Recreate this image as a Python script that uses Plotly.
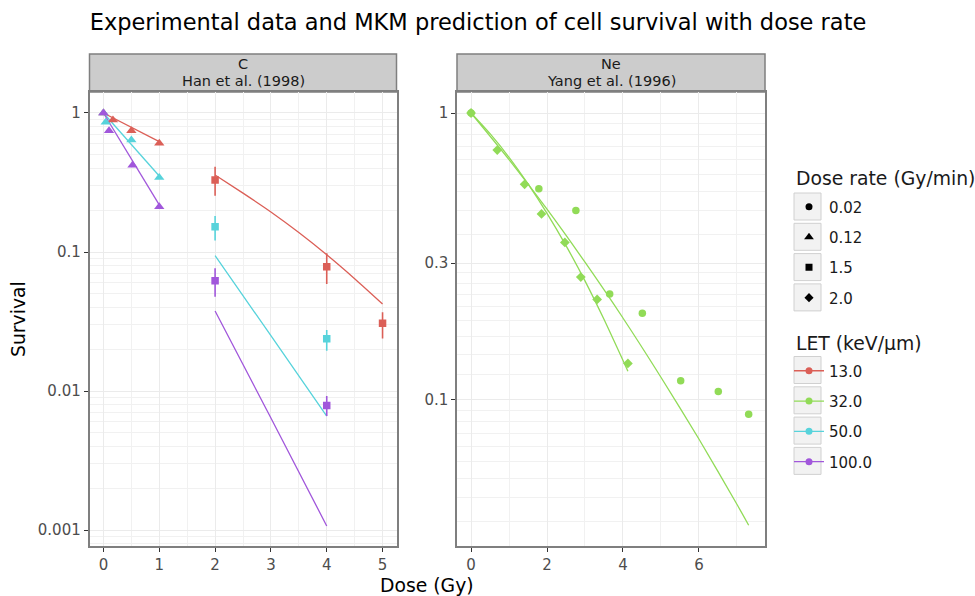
import plotly.graph_objects as go

# ---------------- data ----------------
LET_COLORS = {"13.0": "#DB5F57", "32.0": "#91DB57", "50.0": "#57D3DB", "100.0": "#A157DB"}

# Carbon ions, Han et al. (1998) -- 0.12 Gy/min (triangles)
c_tri_dose = {
    "13.0": [0.0, 0.17, 0.5, 1.0],
    "50.0": [0.0, 0.04, 0.5, 1.0],
    "100.0": [0.0, 0.1, 0.52, 1.0],
}
c_tri_surv = {
    "13.0": [1.0, 0.89, 0.746, 0.605],
    "50.0": [1.0, 0.857, 0.64, 0.344],
    "100.0": [1.0, 0.746, 0.42, 0.212],
}
c_tri_fit_dose = [0.0, 0.5, 1.0]
c_tri_fit_surv = {
    "13.0": [1.0, 0.789, 0.622],
    "50.0": [1.0, 0.593, 0.352],
    "100.0": [1.0, 0.467, 0.218],
}

# Carbon ions, Han et al. (1998) -- 1.5 Gy/min (squares, with error bars)
c_sq_dose = {
    "13.0": [2.0, 4.0, 5.0],
    "50.0": [2.0, 4.0],
    "100.0": [2.0, 4.0],
}
c_sq_surv = {
    "13.0": [0.330, 0.0784, 0.0307],
    "50.0": [0.152, 0.0238],
    "100.0": [0.0622, 0.00785],
}
c_sq_upper = {
    "13.0": [0.411, 0.098, 0.0369],
    "50.0": [0.1815, 0.0275],
    "100.0": [0.0763, 0.0092],
}
c_sq_lower = {
    "13.0": [0.254, 0.0589, 0.0239],
    "50.0": [0.1208, 0.0195],
    "100.0": [0.0477, 0.0066],
}
c_sq_fit_dose = {
    "13.0": [2.0, 2.5, 3.0, 3.5, 4.0, 4.5, 5.0],
    "50.0": [2.0, 3.0, 4.0],
    "100.0": [2.0, 3.0, 4.0],
}
c_sq_fit_surv = {
    "13.0": [0.358, 0.265, 0.194, 0.138, 0.0955, 0.0643, 0.0423],
    "50.0": [0.094, 0.025, 0.0066],
    "100.0": [0.0376, 0.0064, 0.00107],
}

# Neon ions, Yang et al. (1996), LET 32.0
ne_circ_dose = [0.0, 1.785, 2.76, 3.65, 4.51, 5.52, 6.51, 7.31]
ne_circ_surv = [1.0, 0.544, 0.457, 0.234, 0.2005, 0.1167, 0.107, 0.0891]
ne_diam_dose = [0.0, 0.69, 1.41, 1.855, 2.47, 2.89, 3.32, 4.13]
ne_diam_surv = [1.0, 0.743, 0.564, 0.445, 0.354, 0.268, 0.224, 0.134]
ne_circ_fit_dose = [0.0, 1.0, 2.0, 3.0, 4.0, 5.0, 6.0, 7.0, 7.31]
ne_circ_fit_surv = [1.0, 0.688, 0.462, 0.302, 0.193, 0.120, 0.0731, 0.0433, 0.0366]
ne_diam_fit_dose = [0.0, 0.5, 1.0, 1.5, 2.0, 2.5, 3.0, 3.5, 4.13]
ne_diam_fit_surv = [1.0, 0.847, 0.701, 0.566, 0.447, 0.345, 0.260, 0.191, 0.126]

dose_rate_labels = ["0.02", "0.12", "1.5", "2.0"]
dose_rate_symbols = ["circle", "triangle-up", "square", "diamond"]
let_labels = ["13.0", "32.0", "50.0", "100.0"]

left_xticks = [0, 1, 2, 3, 4, 5]
right_xticks = [0, 2, 4, 6]
left_yticks = [0.001, 0.01, 0.1, 1]
right_yticks = [0.1, 0.3, 1]

# ---------------- styling helpers ----------------
W, H = 975, 596
FONT = "DejaVu Sans"
GRID = "#EBEBEB"
GRID_MINOR = "#F1F1F1"
BORDER = "#7F7F7F"
TICKTXT = "#4D4D4D"
TXT = "#1A1A1A"
SMALL = 15.0   # tick labels, legend labels
STRIP = 14.5   # facet strip text
MEDIUM = 18.8  # axis and legend titles
LARGE = 22.5   # plot title


def px(x):
    return x / W


def py(y):
    return 1 - y / H


LEFT = (89.5, 396.5)
RIGHT = (457.0, 765.0)
TOP, BOTTOM = 92.0, 546.0
STRIP_TOP = 54.0
LEG_X = 789.0

SYM_SIZE = {"circle": 7.5, "triangle-up": 9, "square": 7.5, "diamond": 7.5}


def minor_log_breaks(majors, lo, hi):
    """Evenly spaced (in data units) minor breaks between consecutive majors."""
    vals = []
    for a, b in zip(majors[:-1], majors[1:]):
        step = (b - a) / 9
        vals += [a + k * step for k in range(1, 9)]
    return [v for v in vals if lo <= v <= hi]


fig = go.Figure()

# ---- left panel: carbon ----
for let in ["13.0", "50.0", "100.0"]:
    col = LET_COLORS[let]
    fig.add_trace(go.Scatter(
        x=c_tri_fit_dose, y=c_tri_fit_surv[let], mode="lines",
        line=dict(color=col, width=1.3), showlegend=False, xaxis="x", yaxis="y"))
    fig.add_trace(go.Scatter(
        x=c_sq_fit_dose[let], y=c_sq_fit_surv[let], mode="lines",
        line=dict(color=col, width=1.3, shape="spline", smoothing=0.6),
        showlegend=False, xaxis="x", yaxis="y"))
for let in ["13.0", "50.0", "100.0"]:
    col = LET_COLORS[let]
    fig.add_trace(go.Scatter(
        x=c_tri_dose[let], y=c_tri_surv[let], mode="markers",
        marker=dict(symbol="triangle-up", size=SYM_SIZE["triangle-up"], color=col),
        showlegend=False, xaxis="x", yaxis="y"))
    s = c_sq_surv[let]
    fig.add_trace(go.Scatter(
        x=c_sq_dose[let], y=s, mode="markers",
        marker=dict(symbol="square", size=SYM_SIZE["square"], color=col),
        error_y=dict(type="data", symmetric=False,
                     array=[u - v for u, v in zip(c_sq_upper[let], s)],
                     arrayminus=[v - l for v, l in zip(s, c_sq_lower[let])],
                     width=0, thickness=1.6, color=col),
        showlegend=False, xaxis="x", yaxis="y"))

# ---- right panel: neon ----
ne_col = LET_COLORS["32.0"]
fig.add_trace(go.Scatter(x=ne_circ_fit_dose, y=ne_circ_fit_surv, mode="lines",
                         line=dict(color=ne_col, width=1.3, shape="spline", smoothing=0.6),
                         showlegend=False, xaxis="x2", yaxis="y2"))
fig.add_trace(go.Scatter(x=ne_diam_fit_dose, y=ne_diam_fit_surv, mode="lines",
                         line=dict(color=ne_col, width=1.3, shape="spline", smoothing=0.6),
                         showlegend=False, xaxis="x2", yaxis="y2"))
fig.add_trace(go.Scatter(x=ne_circ_dose, y=ne_circ_surv, mode="markers",
                         marker=dict(symbol="circle", size=SYM_SIZE["circle"], color=ne_col),
                         showlegend=False, xaxis="x2", yaxis="y2"))
fig.add_trace(go.Scatter(x=ne_diam_dose, y=ne_diam_surv, mode="markers",
                         marker=dict(symbol="diamond", size=SYM_SIZE["diamond"], color=ne_col),
                         showlegend=False, xaxis="x2", yaxis="y2"))

# ---- legend entries ----
for lab, sym in zip(dose_rate_labels, dose_rate_symbols):
    fig.add_trace(go.Scatter(
        x=[None], y=[None], mode="markers", name=lab, legend="legend",
        legendgroup="dr" + lab,
        marker=dict(symbol=sym, size=SYM_SIZE[sym] - 0.5, color="black"),
        xaxis="x", yaxis="y"))
for lab in let_labels:
    fig.add_trace(go.Scatter(
        x=[None], y=[None], mode="lines+markers", name=lab, legend="legend2",
        legendgroup="let" + lab,
        line=dict(color=LET_COLORS[lab], width=1.3),
        marker=dict(symbol="circle", size=7, color=LET_COLORS[lab]),
        xaxis="x", yaxis="y"))


def xaxis_cfg(domain, rng, ticks, minor):
    return dict(domain=domain, range=rng, tickvals=ticks, ticktext=[str(t) for t in ticks],
                ticks="outside", ticklen=4, tickwidth=1, tickcolor="#333333",
                tickfont=dict(size=SMALL, color=TICKTXT, family=FONT),
                showgrid=True, gridcolor=GRID, gridwidth=1.2, zeroline=False,
                minor=dict(tickvals=minor, showgrid=True, gridcolor=GRID_MINOR,
                           gridwidth=0.8, ticks=""),
                showline=True, mirror=True, linecolor=BORDER, linewidth=1.5)


def yaxis_cfg(domain, rng, ticks, minor, anchor):
    return dict(type="log", domain=domain, range=rng, anchor=anchor,
                tickvals=ticks, ticktext=[("%g" % t) for t in ticks],
                ticks="outside", ticklen=4, tickwidth=1, tickcolor="#333333",
                tickfont=dict(size=SMALL, color=TICKTXT, family=FONT),
                showgrid=True, gridcolor=GRID, gridwidth=1.2, zeroline=False,
                minor=dict(tickvals=minor, showgrid=True, gridcolor=GRID_MINOR,
                           gridwidth=0.8, ticks=""),
                showline=True, mirror=True, linecolor=BORDER, linewidth=1.5)


ydom = [py(BOTTOM), py(TOP)]
left_minor_y = minor_log_breaks([0.0001, 0.001, 0.01, 0.1, 1, 10], 0.0007, 1.5)
right_minor_y = minor_log_breaks([0.03, 0.1, 0.3, 1, 3], 0.03, 1.2)

legend_common = dict(xanchor="left", yanchor="top", bgcolor="rgba(0,0,0,0)",
                     font=dict(size=SMALL, color=TXT, family=FONT),
                     tracegroupgap=7.8, itemclick=False, itemdoubleclick=False)

fig.update_layout(
    width=W, height=H,
    margin=dict(l=0, r=0, t=0, b=0),
    paper_bgcolor="white", plot_bgcolor="white",
    font=dict(family=FONT, color=TXT),
    title=dict(text="Experimental data and MKM prediction of cell survival with dose rate",
               x=px(478), xanchor="center", y=py(22), yanchor="middle",
               font=dict(size=LARGE, color="black", family=FONT)),
    xaxis=xaxis_cfg([px(LEFT[0]), px(LEFT[1])], [-0.25, 5.25], left_xticks,
                    [0.5, 1.5, 2.5, 3.5, 4.5]),
    yaxis=yaxis_cfg(ydom, [-3.115, 0.151], left_yticks, left_minor_y, "x"),
    xaxis2=dict(xaxis_cfg([px(RIGHT[0]), px(RIGHT[1])], [-0.37, 7.74], right_xticks,
                          [1, 3, 5, 7]), anchor="y2"),
    yaxis2=yaxis_cfg(ydom, [-1.509, 0.0732], right_yticks, right_minor_y, "x2"),
    legend=dict(legend_common, x=px(LEG_X), y=py(190.5)),
    legend2=dict(legend_common, x=px(LEG_X), y=py(354.5)),
    showlegend=True,
)

# legend titles
for text, cy in [("Dose rate (Gy/min)", 178), ("LET (keV/µm)", 343.5)]:
    fig.add_annotation(text=text, x=px(794), y=py(cy), xref="paper", yref="paper",
                       showarrow=False, xanchor="left", yanchor="middle",
                       font=dict(size=MEDIUM, color=TXT))

# facet strips
strips = [(LEFT, "C", "Han et al. (1998)"), (RIGHT, "Ne", "Yang et al. (1996)")]
for (x0, x1), l1, l2 in strips:
    fig.add_shape(type="rect", xref="paper", yref="paper",
                  x0=px(x0), x1=px(x1), y0=py(TOP), y1=py(STRIP_TOP),
                  fillcolor="#CCCCCC", line=dict(color=BORDER, width=1.5), layer="below")
    cx = px((x0 + x1) / 2)
    fig.add_annotation(text=l1, x=cx, y=py(64.5), xref="paper", yref="paper",
                       showarrow=False, xanchor="center", yanchor="middle",
                       font=dict(size=STRIP, color=TXT))
    fig.add_annotation(text=l2, x=cx, y=py(80.5), xref="paper", yref="paper",
                       showarrow=False, xanchor="center", yanchor="middle",
                       font=dict(size=STRIP, color=TXT))

# legend key backgrounds
for cy in [206.5, 236.8, 267.1, 297.4, 370, 400.3, 430.6, 460.9]:
    fig.add_shape(type="rect", xref="paper", yref="paper",
                  x0=px(794), x1=px(821), y0=py(cy + 13.5), y1=py(cy - 13.5),
                  fillcolor="#F2F2F2", line=dict(color="#D0D0D0", width=1), layer="below")

# axis titles
fig.add_annotation(text="Dose (Gy)", x=px(427), y=py(585), xref="paper", yref="paper",
                   showarrow=False, xanchor="center", yanchor="middle",
                   font=dict(size=MEDIUM, color="black"))
fig.add_annotation(text="Survival", x=px(18), y=py(319), xref="paper", yref="paper",
                   showarrow=False, textangle=-90, xanchor="center", yanchor="middle",
                   font=dict(size=MEDIUM, color="black"))

fig.write_html("out.html")
